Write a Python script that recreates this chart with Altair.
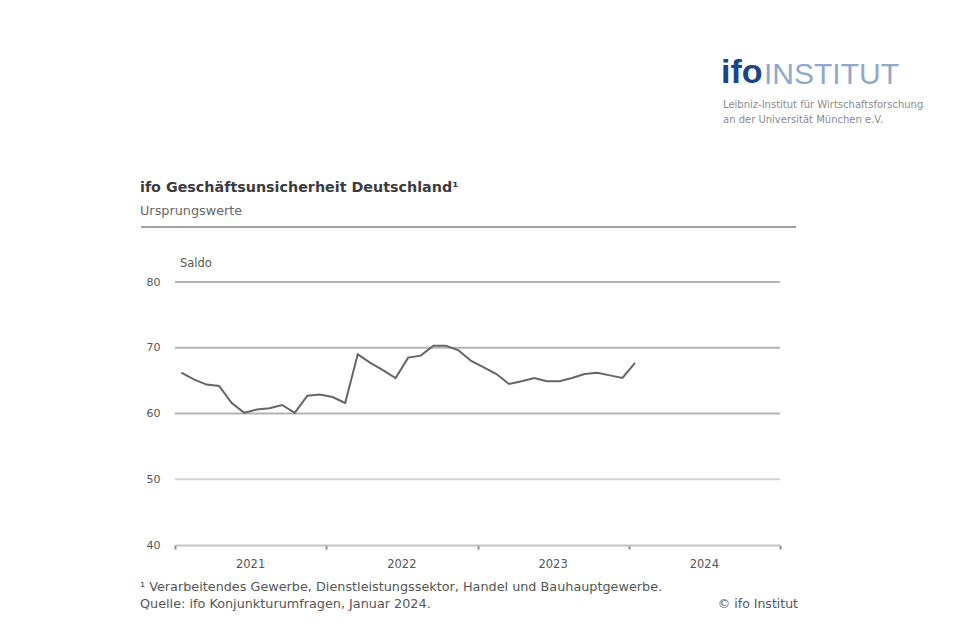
import altair as alt
import pandas as pd

# Monthly values, Jan 2021 .. Jan 2024 (Saldo)
values = [66.2, 65.2, 64.4, 64.2, 61.6, 60.1, 60.6, 60.8, 61.3, 60.1, 62.7, 62.9,
          62.5, 61.6, 69.0, 67.7, 66.6, 65.4, 68.5, 68.8, 70.3, 70.3, 69.6, 68.0,
          67.0, 66.0, 64.5, 64.9, 65.4, 64.9, 64.9, 65.4, 66.0, 66.2, 65.8, 65.4,
          67.7]
months = [i + 0.5 for i in range(len(values))]

years = ["2021", "2022", "2023", "2024"]
year_pos = [6, 18, 30, 42]
y_ticks = [40, 50, 60, 70, 80]
x_ticks = [0, 12, 24, 36, 48]

FONT = "DejaVu Sans"
W, H = 605, 263

df = pd.DataFrame({"t": months, "v": values})
ydf = pd.DataFrame({"t": year_pos, "label": years})
gdf = pd.DataFrame({"g": [80, 70, 60]})

xscale = alt.Scale(domain=[0, 48], nice=False, zero=False)
yscale = alt.Scale(domain=[40, 80], nice=False, zero=False)

base_axis_x = alt.Axis(values=x_ticks, labels=False, domain=True, domainColor="#c2c2c2",
                       domainWidth=2, ticks=True, tickColor="#8a8a8a", tickSize=4,
                       tickWidth=2, grid=False, title=None)
base_axis_y = alt.Axis(values=y_ticks, domain=False, ticks=False, grid=False,
                       labelPadding=15, labelFont=FONT, labelFontSize=11,
                       labelColor="#555555", title=None)

grid = alt.Chart(gdf).mark_rule(color="#b3b3b3", strokeWidth=2).encode(
    y=alt.Y("g:Q", scale=yscale, axis=base_axis_y),
    x=alt.value(0), x2=alt.value(W)
)
grid50 = alt.Chart(pd.DataFrame({"g": [50]})).mark_rule(color="#d2d2d2", strokeWidth=2).encode(
    y=alt.Y("g:Q", scale=yscale), x=alt.value(0), x2=alt.value(W)
)

line = alt.Chart(df).mark_line(color="#666666", strokeWidth=2).encode(
    x=alt.X("t:Q", scale=xscale, axis=base_axis_x),
    y=alt.Y("v:Q", scale=yscale)
)

year_text = alt.Chart(ydf).mark_text(font=FONT, fontSize=11.5, color="#555555",
                                     baseline="middle").encode(
    x=alt.X("t:Q", scale=xscale), y=alt.value(H + 20), text="label:N"
)

def txt(s, x, y, size=10, color="#555555", weight="normal", align="left", font=FONT):
    return alt.Chart(pd.DataFrame({"s": [s]})).mark_text(
        font=font, fontSize=size, color=color, fontWeight=weight, align=align,
        baseline="middle").encode(x=alt.value(x), y=alt.value(y), text="s:N")

title = txt("ifo Geschäftsunsicherheit Deutschland¹", -35, -94, size=14.3,
            color="#3c3c3c", weight="bold")
subtitle = txt("Ursprungswerte", -35, -71, size=12.8, color="#666666")
header_rule = alt.Chart(pd.DataFrame({"a": [0]})).mark_rule(
    color="#a0a0a0", strokeWidth=2).encode(
    x=alt.value(-34), x2=alt.value(621), y=alt.value(-55))
saldo = txt("Saldo", 5, -18, size=11.5, color="#555555")

foot1 = txt("¹ Verarbeitendes Gewerbe, Dienstleistungssektor, Handel und Bauhauptgewerbe.",
            -35, 305, size=12.8, color="#555555")
foot2 = txt("Quelle: ifo Konjunkturumfragen, Januar 2024.", -35, 322, size=12.8,
            color="#555555")
copy = txt("© ifo Institut", 623, 322, size=12.5, color="#555555", align="right")

logo_ifo = txt("ifo", 546, -209, size=34, color="#1a4587", weight="bold",
               font="Liberation Sans")
logo_inst = txt("INSTITUT", 589, -207, size=30, color="#8fa8cc",
                font="Liberation Sans")
logo_sub1 = txt("Leibniz-Institut für Wirtschaftsforschung", 548, -177, size=10,
                color="#8a8a8a")
logo_sub2 = txt("an der Universität München e.V.", 548, -162, size=10, color="#8a8a8a")

chart = alt.layer(
    grid, grid50, line, year_text, title, subtitle, header_rule, saldo,
    foot1, foot2, copy, logo_ifo, logo_inst, logo_sub1, logo_sub2
).properties(
    width=W, height=H,
    padding={"left": 167, "top": 274, "right": 172, "bottom": 87},
    autosize="none", background="white"
).configure_view(stroke=None)

chart.save("out.html", embed_options={"renderer": "svg", "actions": False})
